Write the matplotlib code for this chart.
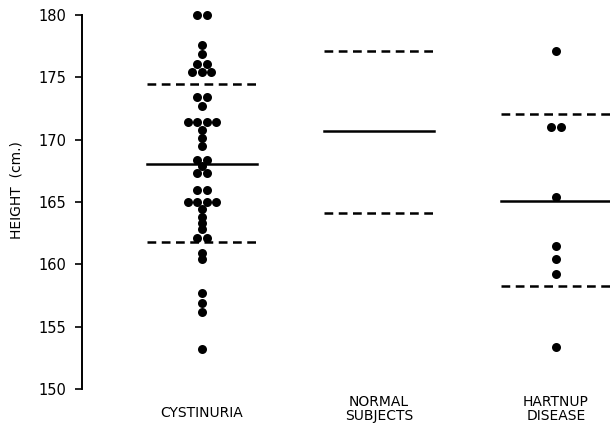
import numpy as np
import matplotlib
matplotlib.use("Agg")
import matplotlib.pyplot as plt

groups = ["CYSTINURIA", "NORMAL\nSUBJECTS", "HARTNUP\nDISEASE"]

# individual heights (cm), repeats = dots side by side
cystinuria = [180.0, 180.0, 177.6, 176.9, 176.1, 176.1, 175.4, 175.4, 175.4,
              173.4, 173.4, 172.7, 171.4, 171.4, 171.4, 171.4, 170.8, 170.1,
              169.5, 168.4, 168.4, 167.9, 167.3, 167.3, 166.0, 166.0,
              165.0, 165.0, 165.0, 165.0, 164.4, 163.8, 163.3, 162.8,
              162.1, 162.1, 160.9, 160.4, 157.7, 156.9, 156.2, 153.2]
hartnup = [177.1, 171.0, 171.0, 165.4, 161.5, 160.4, 159.2, 153.4]

# mean and +/- SD lines
means = [168.05, 170.7, 165.1]
upper = [174.5, 177.1, 172.1]
lower = [161.8, 164.1, 158.3]

yticks = [150, 155, 160, 165, 170, 175, 180]

fig = plt.figure(figsize=(6.1, 4.29), dpi=100)
ax = fig.add_axes([0.134, 0.0932, 0.866, 0.8718])

pos = [1, 2, 3]
half = 0.31
step = 0.053


def spread(vals):
    # place equal values side by side, centred on the column
    vals = np.array(vals)
    offs = []
    seen = {}
    for v in vals:
        n = (vals == v).sum()
        k = seen.get(v, 0)
        seen[v] = k + 1
        offs.append((k - (n - 1) / 2) * step)
    return np.array(offs)


for p, vals in [(1, cystinuria), (3, hartnup)]:
    ax.scatter(p + spread(vals), vals, s=42, color="black", zorder=3,
               clip_on=False, linewidths=0)

for p, m, u, l in zip(pos, means, upper, lower):
    ax.plot([p - half, p + half], [m, m], color="black", lw=1.8, clip_on=False)
    for y in (u, l):
        ax.plot([p - half, p + half], [y, y], color="black", lw=1.8,
                dashes=(3.5, 2.2), clip_on=False)

ax.set_xlim(0.322, 3.305)
ax.set_ylim(150, 180)
ax.set_yticks(yticks)
ax.set_yticklabels([str(t) for t in yticks], fontsize=10.5)
ax.tick_params(axis="y", direction="out", length=5, width=1.2, pad=6)
ax.set_xticks([])
for s in ["top", "right", "bottom"]:
    ax.spines[s].set_visible(False)
ax.spines["left"].set_linewidth(1.4)

fig.text(17 / 610, 1 - 190 / 429, "HEIGHT  (cm.)", rotation=90,
         ha="center", va="center", fontsize=10)

label_y = [1 - 413 / 429, 1 - 409 / 429, 1 - 409 / 429]
for p, g, ly in zip(pos, groups, label_y):
    xf = ax.transData.transform((p, 150))[0] / fig.bbox.width
    fig.text(xf, ly, g, ha="center", va="center",
             fontsize=10, linespacing=0.95)

fig.savefig("out.png", dpi=100)
